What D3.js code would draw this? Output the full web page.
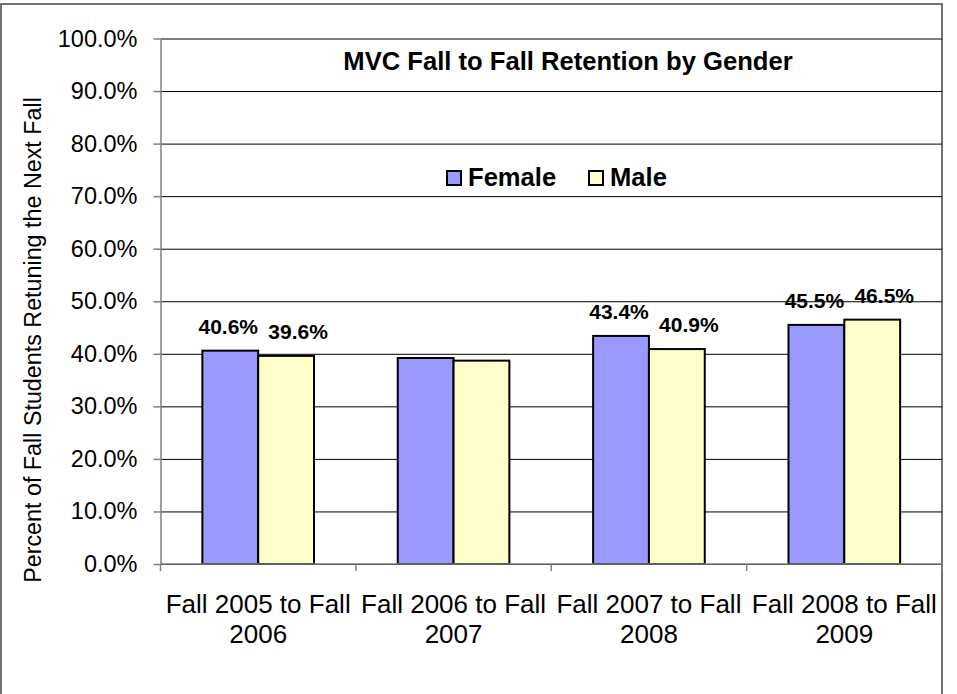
<html>
  <head>
    <script src="https://d3js.org/d3.v7.min.js"></script>
    <style>
      body { margin: 0; background: #fff; }
      text { font-family: Arial, "Liberation Sans", sans-serif; fill: #000; }
    </style>
  </head>

  <body>
    <div id="vis"></div>
  </body>

  <script>
    // Chart data
    var categories = ["Fall 2005 to Fall 2006", "Fall 2006 to Fall 2007", "Fall 2007 to Fall 2008", "Fall 2008 to Fall 2009"]
    var seriesNames = ["Female", "Male"]
    var female = [0.406, 0.392, 0.434, 0.455]
    var male = [0.396, 0.387, 0.409, 0.465]
    var showLabel = [true, false, true, true]
    var yTicks = [0, 0.1, 0.2, 0.3, 0.4, 0.5, 0.6, 0.7, 0.8, 0.9, 1.0]
    var colors = ["#9999ff", "#ffffcc"]

    var W = 957, H = 694
    var plot = {left: 160.5, right: 942, top: 38.5, bottom: 564}

    var svg = d3.select("#vis")
      .append("svg")
      .attr("width", W)
      .attr("height", H)

    // outer chart border
    svg.append("rect")
      .attr("x", 1).attr("y", 4)
      .attr("width", 941).attr("height", 720)
      .attr("fill", "none")
      .attr("stroke", "#444")
      .attr("stroke-width", 1.5)

    // scales
    var x = d3.scaleBand()
      .domain(categories)
      .range([plot.left, plot.right])
      .padding(0)

    var xs = d3.scaleBand()
      .domain(seriesNames)
      .range([0, x.bandwidth()])
      .paddingInner(0)
      .paddingOuter(0.75)

    var y = d3.scaleLinear().domain([0, 1]).range([plot.bottom, plot.top])

    // gridlines
    svg.append("g")
      .attr("transform", "translate(" + plot.left + ",0)")
      .call(d3.axisLeft(y).tickValues(yTicks).tickSize(-(plot.right - plot.left)).tickFormat(""))
      .call(g => g.select(".domain").remove())
      .call(g => g.selectAll("line").attr("stroke", "#000").attr("stroke-width", 1))

    // y axis
    svg.append("g")
      .attr("transform", "translate(" + plot.left + ",0)")
      .call(d3.axisLeft(y).tickValues(yTicks).tickSize(7).tickSizeOuter(0).tickPadding(16).tickFormat(d3.format(".1%")))
      .call(g => g.select(".domain").attr("stroke", "#808080").attr("stroke-width", 1.5))
      .call(g => g.selectAll("line").attr("stroke", "#808080").attr("stroke-width", 1.5))
      .call(g => g.selectAll("text").style("font-size", "23.5px").attr("fill", "#000"))

    // bars
    var data = categories.map(function(c, i) {
      return {cat: c, vals: [
        {name: seriesNames[0], v: female[i]},
        {name: seriesNames[1], v: male[i]}
      ]}
    })

    var groups = svg.selectAll(".grp")
      .data(data)
      .enter()
      .append("g")
      .attr("class", "grp")
      .attr("transform", function(d) { return "translate(" + x(d.cat) + ",0)" })

    groups.selectAll("rect")
      .data(function(d) { return d.vals })
      .enter()
      .append("rect")
      .attr("x", function(d) { return xs(d.name) })
      .attr("y", function(d) { return y(d.v) })
      .attr("width", xs.bandwidth())
      .attr("height", function(d) { return plot.bottom - y(d.v) })
      .attr("fill", function(d, i) { return colors[i] })
      .attr("stroke", "#000")
      .attr("stroke-width", 2)

    // data labels (male labels sit a bit to the right in the original)
    var labelNudge = [-2, 12]
    groups.filter(function(d, i) { return showLabel[i] })
      .selectAll(".lbl")
      .data(function(d) { return d.vals })
      .enter()
      .append("text")
      .attr("class", "lbl")
      .attr("x", function(d, i) { return xs(d.name) + xs.bandwidth() / 2 + labelNudge[i] })
      .attr("y", function(d) { return y(d.v) - 17 })
      .attr("text-anchor", "middle")
      .style("font-size", "21px")
      .style("font-weight", "bold")
      .text(function(d) { return d3.format(".1%")(d.v) })

    // x axis line + ticks between categories
    svg.append("line")
      .attr("x1", plot.left).attr("x2", plot.right)
      .attr("y1", plot.bottom).attr("y2", plot.bottom)
      .attr("stroke", "#808080").attr("stroke-width", 1.5)

    var bounds = categories.map(function(c) { return x(c) }).concat([plot.right])
    svg.selectAll(".xtick")
      .data(bounds)
      .enter()
      .append("line")
      .attr("x1", function(d) { return d }).attr("x2", function(d) { return d })
      .attr("y1", plot.bottom).attr("y2", plot.bottom + 7)
      .attr("stroke", "#808080").attr("stroke-width", 1.5)

    // category labels, two lines
    var xl = svg.selectAll(".xlbl")
      .data(categories)
      .enter()
      .append("text")
      .attr("text-anchor", "middle")
      .style("font-size", "26px")
    xl.append("tspan")
      .attr("x", function(d) { return x(d) + x.bandwidth() / 2 })
      .attr("y", 612.5)
      .text(function(d) { return d.slice(0, d.lastIndexOf(" ")) })
    xl.append("tspan")
      .attr("x", function(d) { return x(d) + x.bandwidth() / 2 })
      .attr("y", 643.3)
      .text(function(d) { return d.slice(d.lastIndexOf(" ") + 1) })

    // y axis title
    svg.append("text")
      .attr("transform", "translate(41,340) rotate(-90)")
      .attr("text-anchor", "middle")
      .style("font-size", "23.3px")
      .text("Percent of Fall Students Retuning the Next Fall")

    // chart title
    svg.append("text")
      .attr("x", 568)
      .attr("y", 70)
      .attr("text-anchor", "middle")
      .style("font-size", "25.6px")
      .style("font-weight", "bold")
      .text("MVC Fall to Fall Retention by Gender")

    // legend
    var legX = [447, 589]
    var leg = svg.selectAll(".leg")
      .data(seriesNames)
      .enter()
      .append("g")
      .attr("transform", function(d, i) { return "translate(" + legX[i] + ",171)" })
    leg.append("rect")
      .attr("width", 14).attr("height", 14)
      .attr("fill", function(d, i) { return colors[i] })
      .attr("stroke", "#000").attr("stroke-width", 2)
    leg.append("text")
      .attr("x", 21)
      .attr("y", 15)
      .style("font-size", "25.6px")
      .style("font-weight", "bold")
      .text(function(d) { return d })
  </script>
</html>
